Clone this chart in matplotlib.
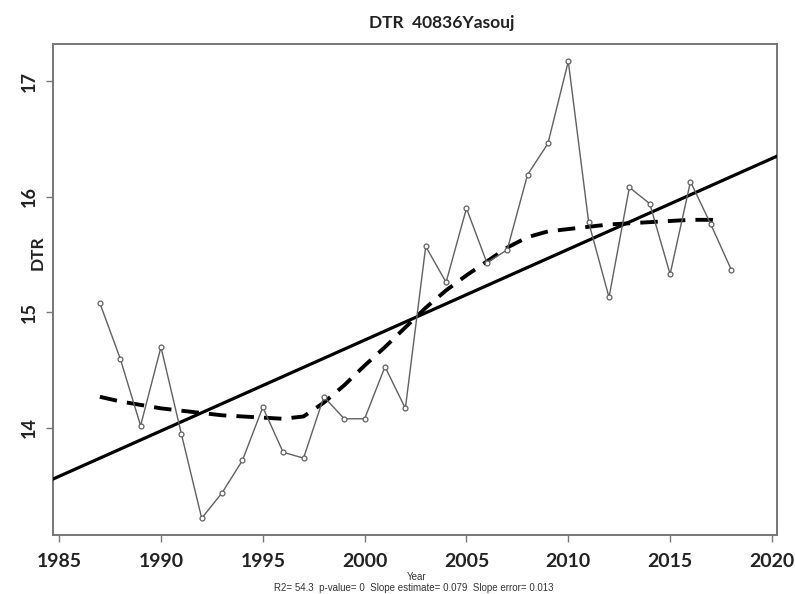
import numpy as np
import matplotlib
matplotlib.use("Agg")
import matplotlib.pyplot as plt

# yearly DTR values
years = np.arange(1987, 2019)
dtr = [15.08, 14.60, 14.02, 14.70, 13.95, 13.22, 13.44, 13.72, 14.18, 13.79,
       13.74, 14.27, 14.08, 14.08, 14.53, 14.17, 15.57, 15.26, 15.90, 15.43,
       15.54, 16.19, 16.46, 17.17, 15.78, 15.13, 16.08, 15.94, 15.33, 16.13,
       15.76, 15.37]
# smoothed (lowess) curve
smooth = [14.27, 14.23, 14.20, 14.17, 14.15, 14.13, 14.11, 14.10, 14.09, 14.08,
          14.10, 14.22, 14.37, 14.54, 14.70, 14.87, 15.04, 15.19, 15.32, 15.44,
          15.56, 15.65, 15.70, 15.72, 15.74, 15.76, 15.77, 15.78, 15.79, 15.80,
          15.80, 15.79]
xticks = [1985, 1990, 1995, 2000, 2005, 2010, 2015, 2020]
yticks = [14, 15, 16, 17]

fig = plt.figure(figsize=(7.95, 5.94), dpi=100)
ax = fig.add_axes([0.0667, 0.0993, 0.9107, 0.8266])

xlim = (1984.7, 2020.25)
ax.set_xlim(xlim)
ax.set_ylim(13.075, 17.32)

# linear trend
slope, icpt = np.polyfit(years, dtr, 1)
xx = np.array(xlim)
ax.plot(xx, icpt + slope * xx, color="black", lw=2.3, zorder=3)

# smooth
ax.plot(years[:-1].tolist() + [2017.5], smooth[:-1] + [smooth[-1]], color="black",
        lw=2.8, dashes=(4.5, 2.6), zorder=4)

# data
ax.plot(years, dtr, color="#606060", lw=1.0, marker="o", ms=3.5, mfc="white",
        mec="#606060", mew=0.9, zorder=5)

for s in ax.spines.values():
    s.set_color("#777777")
    s.set_linewidth(1.4)

ax.set_xticks(xticks)
ax.set_yticks(yticks)
ax.tick_params(axis="both", colors="#777777", length=5, width=1.0)
ax.tick_params(axis="x", pad=8)
ax.tick_params(axis="y", pad=6)
for lab in ax.get_xticklabels():
    lab.set_fontfamily(["Lato", "DejaVu Sans"])
    lab.set_fontweight("bold")
    lab.set_fontsize(14)
    lab.set_color("#222222")
for lab in ax.get_yticklabels():
    lab.set_fontfamily(["Lato", "DejaVu Sans"])
    lab.set_fontweight("bold")
    lab.set_fontsize(13)
    lab.set_color("#222222")
    lab.set_rotation(90)
    lab.set_va("center")

fig.text(38 / 795, 1 - 253 / 594, "DTR", rotation=90, ha="center", va="center",
         fontsize=12.5, fontweight="bold", family=["Lato", "DejaVu Sans"], color="#222222")
fig.text(442 / 795, 1 - 23 / 594, "DTR  40836Yasouj", ha="center", va="center",
         fontsize=12.5, fontweight="bold", family=["Lato", "DejaVu Sans"], color="#222222")
fig.text(417 / 795, 1 - 577 / 594, "Year", ha="center", va="center", fontsize=7,
         family=["Liberation Sans", "DejaVu Sans"], color="#333333")
fig.text(414 / 795, 1 - 588 / 594,
         "R2= 54.3  p-value= 0  Slope estimate= 0.079  Slope error= 0.013",
         ha="center", va="center", fontsize=7,
         family=["Liberation Sans", "DejaVu Sans"], color="#333333")

fig.savefig("out.png", dpi=100)
